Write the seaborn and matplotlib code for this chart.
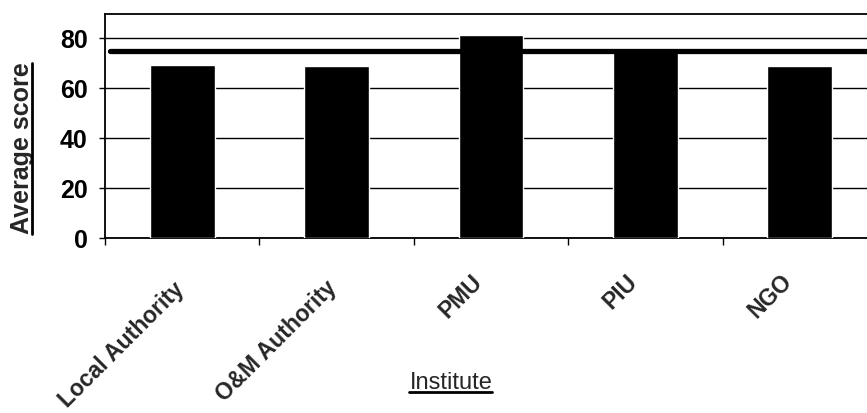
import matplotlib
matplotlib.use("Agg")
import matplotlib.pyplot as plt
import matplotlib.transforms as mtransforms
from matplotlib.lines import Line2D
import seaborn as sns
import pandas as pd

# values
institutes = ['Local Authority', 'O&M Authority', 'PMU', 'PIU', 'NGO']
avg_score = [69.2, 69.0, 81.4, 75.0, 68.8]
target_line = 75
y_ticks = [0, 20, 40, 60, 80]

# small nudges (px) so the rotated labels sit where the scan has them
label_dx = [7, 5, -4, -3, -3]
label_dy = [-2, -1, 5, 5, 6]

df = pd.DataFrame({'Institute': institutes, 'Average score': avg_score})

sns.set_style('white')
plt.rcParams['font.family'] = ['Liberation Sans', 'DejaVu Sans']

fig = plt.figure(figsize=(8.67, 4.13), dpi=100)
ax = fig.add_axes([105 / 867, (413 - 238) / 413, 772 / 867, 224 / 413])

sns.barplot(data=df, x='Institute', y='Average score', color='black',
            saturation=1, width=0.42, ax=ax, zorder=3)

ax.set_xlim(-0.5, 4.5)
ax.set_ylim(0, 89.6)
ax.set_yticks(y_ticks)
ax.yaxis.grid(True, color='black', linewidth=1.0, zorder=0)
ax.axhline(target_line, xmin=0.007, color='black', linewidth=3.8, zorder=4)

for s in ['left', 'bottom', 'top']:
    ax.spines[s].set_color('black')
    ax.spines[s].set_linewidth(1.3)
ax.spines['right'].set_visible(False)

ax.tick_params(axis='y', left=True, length=4.5, width=1, pad=8, colors='black')
ax.set_yticklabels([str(v) for v in y_ticks], fontweight='bold', fontsize=18)

# category labels, rotated like the original
ax.set_xticks(range(len(institutes)))
ax.set_xticks([i - 0.5 for i in range(len(institutes))], minor=True)
ax.tick_params(axis='x', which='major', length=0, pad=27)
ax.tick_params(axis='x', which='minor', bottom=True, length=5, width=1, color='black')
ax.set_xticklabels(institutes, rotation=45, ha='right', va='top',
                   fontsize=16.5, fontweight='bold')
for lab, dx, dy in zip(ax.get_xticklabels(), label_dx, label_dy):
    shift = mtransforms.ScaledTranslation(dx / 100, dy / 100, fig.dpi_scale_trans)
    lab.set_transform(lab.get_transform() + shift)

ax.set_xlabel('Institute', fontsize=17)
ax.xaxis.set_label_coords(0.448, -0.598)
ax.set_ylabel('Average score', fontsize=18, fontweight='bold')
ax.yaxis.set_label_coords(-0.092, 0.40)

# underline both axis titles like the original
fig.canvas.draw()
inv = fig.transFigure.inverted()
xb = inv.transform_bbox(ax.xaxis.label.get_window_extent())
fig.add_artist(Line2D([xb.x0, xb.x1], [xb.y0 + 0.004, xb.y0 + 0.004],
                      transform=fig.transFigure, color='black', linewidth=2))
yb = inv.transform_bbox(ax.yaxis.label.get_window_extent())
fig.add_artist(Line2D([yb.x1 - 0.002, yb.x1 - 0.002], [yb.y0, yb.y1],
                      transform=fig.transFigure, color='black', linewidth=2))

fig.savefig('out.png', dpi=100)
